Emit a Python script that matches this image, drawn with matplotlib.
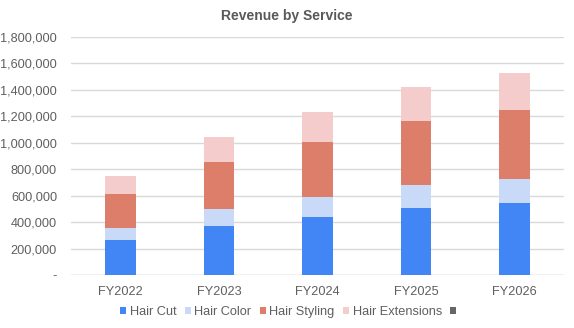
import matplotlib
matplotlib.use("Agg")
import matplotlib.pyplot as plt
from matplotlib.patches import Patch
from matplotlib.ticker import FuncFormatter
import numpy as np

plt.rcParams["font.family"] = ["Liberation Sans", "DejaVu Sans"]

years = ["FY2022", "FY2023", "FY2024", "FY2025", "FY2026"]
hair_cut = [265000, 371000, 440000, 507000, 545000]
hair_color = [91000, 128000, 150000, 174000, 181000]
hair_styling = [257000, 356000, 416000, 484000, 522000]
hair_extensions = [137000, 189000, 227000, 257000, 280000]

series = [
    ("Hair Cut", hair_cut, "#4285F4"),
    ("Hair Color", hair_color, "#C9DAF8"),
    ("Hair Styling", hair_styling, "#DD7E6B"),
    ("Hair Extensions", hair_extensions, "#F4CCCC"),
]
TEXT = "#595959"
LABEL = "#5f5f5f"

fig = plt.figure(figsize=(5.74, 3.28), dpi=100)
ax = fig.add_axes([71 / 574, 1 - 275 / 328, (564 - 71) / 574, (275 - 37) / 328])

x = np.arange(len(years))
bottom = np.zeros(len(years))
for name, values, color in series:
    ax.bar(x, values, width=0.31, bottom=bottom, color=color, label=name, zorder=2)
    bottom += np.array(values)

ax.set_xlim(-0.5, len(years) - 0.5)
ax.set_ylim(0, 1800000)
ax.set_yticks(np.arange(0, 1800001, 200000))
ax.yaxis.set_major_formatter(FuncFormatter(lambda v, _: "-" if v == 0 else f"{int(v):,}"))
ax.set_xticks(x, years)
ax.grid(axis="y", color="#d9d9d9", linewidth=1, zorder=0)
for side in ("top", "right", "left", "bottom"):
    ax.spines[side].set_visible(False)
ax.axhline(0, color="#cccccc", linewidth=1, zorder=1)
ax.tick_params(length=0, labelsize=9.2, colors=LABEL)
ax.tick_params(axis="x", pad=8)
ax.tick_params(axis="y", pad=10)

fig.suptitle("Revenue by Service", x=0.5, y=1 - 16 / 328, va="center",
             fontsize=10, fontweight="bold", color=TEXT)

# legend: four services plus an unlabeled grey entry
handles = [Patch(facecolor=c, edgecolor="none") for _, _, c in series]
handles.append(Patch(facecolor="#666666", edgecolor="none"))
labels = [name for name, _, _ in series] + [""]
fig.legend(handles, labels, loc="center", bbox_to_anchor=(290 / 574, 1 - 312 / 328),
           ncol=5, frameon=False, fontsize=9.2, labelcolor=LABEL,
           handlelength=0.48, handleheight=0.48, handletextpad=0.28,
           columnspacing=0.65, borderaxespad=0)

fig.savefig("out.png", dpi=100)
